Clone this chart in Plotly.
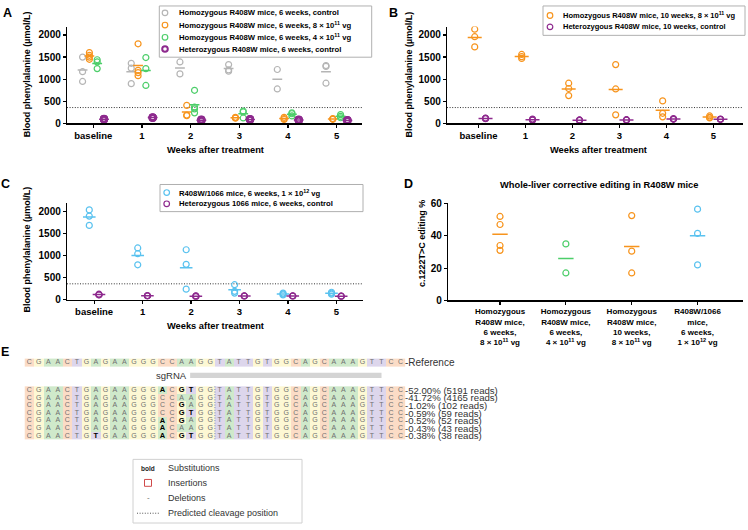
import plotly.graph_objects as go

W, H = 748, 530
FONT = "Liberation Sans, Arial, Helvetica, sans-serif"

# ---------------- data ----------------
week_labels = ["baseline", "1", "2", "3", "4", "5"]

# Panel A (6 weeks old)
a_hom_ctrl = [[1500, 1170, 950], [1360, 1250, 900], [1390, 1120], [1330, 1210, 1180], [1220, 780], [1310, 1290, 910]]
a_hom_8e11 = [[1600, 1540, 1500, 1450], [1800, 1200, 1150, 1080], [410, 190, 175], [140, 130, 120], [140, 110, 90], [110, 100, 95]]
a_hom_4e11 = [[1440, 1390, 1240], [1490, 1240, 860], [750, 370, 330, 240], [280, 260, 125], [240, 220, 170], [200, 160, 130]]
a_het_ctrl = [[105, 100, 95, 90], [140, 135, 130, 125], [85, 80, 70, 65], [100, 95, 90, 85], [85, 80, 75, 70], [75, 70, 65, 60]]

# Panel B (10 weeks old)
b_hom_8e11 = [[2130, 1960, 1730], [1560, 1510, 1470], [910, 790, 630], [1330, 780, 195], [510, 230, 150], [170, 140, 125]]
b_het_ctrl = [[120, 115, 110], [100, 85, 75], [80, 75, 70], [85, 80, 75], [110, 100, 95], [100, 95, 90]]

# Panel C
c_cmpd_1e12 = [[2030, 1890, 1680], [1170, 1040, 790], [1130, 800, 240], [340, 190, 150], [150, 130, 110], [170, 150, 125]]
c_het_1066 = [[125, 115, 110], [95, 90, 85], [90, 80, 70], [90, 85, 80], [90, 85, 80], [85, 80, 75]]

phe_threshold = 360
phe_ticks = [0, 500, 1000, 1500, 2000]

# Panel D
d_labels = [
    "Homozygous<br>R408W mice,<br>6 weeks,<br>8 × 10<sup>11</sup> vg",
    "Homozygous<br>R408W mice,<br>6 weeks,<br>4 × 10<sup>11</sup> vg",
    "Homozygous<br>R408W mice,<br>10 weeks,<br>8 × 10<sup>11</sup> vg",
    "R408W/1066<br>mice,<br>6 weeks,<br>1 × 10<sup>12</sup> vg",
]
d_values = [[52, 47, 34, 31], [35, 17], [52.5, 30.5, 17], [56.5, 41.5, 22]]
d_ticks = [0, 20, 40, 60]

# Panel E
ref_seq = "CGAACTGAGAAGGGCCAAGGTATTGTGGCAGCAAAGTTCC"
read_seqs = [
    "CGAACTGAGAAGGGACGTGGTATTGTGGCAGCAAAGTTCC",
    "CGAACTGAGAAGGGCCAAGGTATTGTGGCAGCAAAGTTCC",
    "CGAACTGAGAAGGGCCGAGGTATTGTGGCAGCAAAGTTCC",
    "CGAACTGAGAAGGGCCGTGGTATTGTGGCAGCAAAGTTCC",
    "CGAACTGAGAAGGGACGAGGTATTGTGGCAGCAAAGTTCC",
    "CGAACTGAGAAGGGACAAGGTATTGTGGCAGCAAAGTTCC",
    "CGAACTGTGAAGGGACGTGGTATTGTGGCAGCAAAGTTCC",
]
read_pcts = ["52.00%", "41.72%", "1.02%", "0.59%", "0.52%", "0.43%", "0.38%"]
read_counts = [5191, 4165, 102, 59, 52, 43, 38]

# ---------------- style ----------------
GREY = "#b5b5b5"
ORANGE = "#f7941d"
GREEN = "#4dce6a"
PURPLE = "#8e2a8e"
CYAN = "#5ac2ef"
NUC_COL = {"A": "#cfe9cb", "C": "#fbdcc6", "G": "#fdf8d4", "T": "#ddd6ec"}
NUC_CODE = {"A": 0, "C": 1, "G": 2, "T": 3}
DOT = "1px,1.6px"


def px(x):
    return x / W


def py(y):
    return 1 - y / H


fig = go.Figure()


def add_group(xa, ya, groups, offset, color, mean_w, lw=1.2, size=6):
    xs, ys, mx, my = [], [], [], []
    for i, vals in enumerate(groups):
        for v in vals:
            xs.append(i + offset)
            ys.append(v)
        mx.append(i + offset)
        my.append(sum(vals) / len(vals))
    fig.add_trace(go.Scatter(x=mx, y=my, mode="markers", xaxis=xa, yaxis=ya,
                             marker=dict(symbol="line-ew", size=mean_w, color=color,
                                         line=dict(width=1.5, color=color)),
                             showlegend=False, hoverinfo="skip"))
    fig.add_trace(go.Scatter(x=xs, y=ys, mode="markers", xaxis=xa, yaxis=ya,
                             marker=dict(symbol="circle-open", size=size, color=color,
                                         line=dict(width=lw, color=color)),
                             showlegend=False, hoverinfo="skip"))


# Panel A
add_group("x", "y", a_hom_ctrl, -0.22, GREY, 7)
add_group("x", "y", a_hom_8e11, -0.08, ORANGE, 7)
add_group("x", "y", a_hom_4e11, 0.08, GREEN, 7)
add_group("x", "y", a_het_ctrl, 0.22, PURPLE, 7, lw=2.2)
# Panel B
add_group("x2", "y2", b_hom_8e11, -0.08, ORANGE, 10)
add_group("x2", "y2", b_het_ctrl, 0.15, PURPLE, 10)
# Panel C
add_group("x3", "y3", c_cmpd_1e12, -0.1, CYAN, 9)
add_group("x3", "y3", c_het_1066, 0.1, PURPLE, 9)
# Panel D
d_colors = [ORANGE, GREEN, ORANGE, CYAN]
for i, vals in enumerate(d_values):
    xs = [i] * len(vals)
    fig.add_trace(go.Scatter(x=[i], y=[sum(vals) / len(vals)], mode="markers", xaxis="x4", yaxis="y4",
                             marker=dict(symbol="line-ew", size=11, color=d_colors[i],
                                         line=dict(width=1.5, color=d_colors[i])),
                             showlegend=False, hoverinfo="skip"))
    fig.add_trace(go.Scatter(x=xs, y=vals, mode="markers", xaxis="x4", yaxis="y4",
                             marker=dict(symbol="circle-open", size=6, color=d_colors[i],
                                         line=dict(width=1.2, color=d_colors[i])),
                             showlegend=False, hoverinfo="skip"))

# Panel E: alignment heatmaps
colorscale = [[0, NUC_COL["A"]], [0.25, NUC_COL["A"]], [0.25, NUC_COL["C"]], [0.5, NUC_COL["C"]],
              [0.5, NUC_COL["G"]], [0.75, NUC_COL["G"]], [0.75, NUC_COL["T"]], [1, NUC_COL["T"]]]
cols = list(range(len(ref_seq)))
READ_Y0 = 3.64
read_y = [READ_Y0 + i for i in range(len(read_seqs))]
fig.add_trace(go.Heatmap(z=[[NUC_CODE[c] for c in ref_seq]], x=cols, y=[0], xaxis="x5", yaxis="y5",
                         colorscale=colorscale, zmin=-0.5, zmax=3.5, showscale=False, hoverinfo="skip"))
fig.add_trace(go.Heatmap(z=[[NUC_CODE[c] for c in s] for s in read_seqs], x=cols, y=read_y,
                         xaxis="x5", yaxis="y5", colorscale=colorscale, zmin=-0.5, zmax=3.5,
                         showscale=False, hoverinfo="skip"))
nx, ny, nt, bx, by, bt = [], [], [], [], [], []
for j, c in enumerate(ref_seq):
    nx.append(j); ny.append(0); nt.append(c)
for i, s in enumerate(read_seqs):
    for j, c in enumerate(s):
        if c != ref_seq[j]:
            bx.append(j); by.append(read_y[i]); bt.append(c)
        else:
            nx.append(j); ny.append(read_y[i]); nt.append(c)
fig.add_trace(go.Scatter(x=nx, y=ny, text=nt, mode="text", xaxis="x5", yaxis="y5",
                         textfont=dict(family=FONT, size=7, color="#707070"),
                         showlegend=False, hoverinfo="skip"))
fig.add_trace(go.Scatter(x=bx, y=by, text=bt, mode="text", xaxis="x5", yaxis="y5",
                         textfont=dict(family=FONT, size=7.5, color="#000000", weight="bold"),
                         showlegend=False, hoverinfo="skip"))

# ---------------- axes ----------------
axis_common = dict(showline=True, linecolor="#000", linewidth=1.2, ticks="outside", ticklen=3,
                   tickwidth=1.2, tickcolor="#000", showgrid=False, zeroline=False)
xtick_font = dict(family=FONT, size=9.5, color="#000", weight="bold")
ytick_font = dict(family=FONT, size=10, color="#000", weight="bold")

E_X0, E_X1 = 24.5, 405.3
E_Y0, E_Y1 = 352, 448
layout_axes = dict(
    xaxis=dict(domain=[px(67), px(362)], range=[-0.54, 5.52], anchor="y",
               tickvals=list(range(6)), ticktext=week_labels, tickfont=xtick_font, **axis_common),
    yaxis=dict(domain=[py(121), py(22)], range=[0, 2190], anchor="x",
               tickvals=phe_ticks, tickfont=ytick_font, **axis_common),
    xaxis2=dict(domain=[px(447), px(743)], range=[-0.67, 5.63], anchor="y2",
                tickvals=list(range(6)), ticktext=week_labels, tickfont=xtick_font, **axis_common),
    yaxis2=dict(domain=[py(121), py(22)], range=[0, 2190], anchor="x2",
                tickvals=phe_ticks, tickfont=ytick_font, **axis_common),
    xaxis3=dict(domain=[px(67), px(363)], range=[-0.56, 5.55], anchor="y3",
                tickvals=list(range(6)), ticktext=week_labels, tickfont=xtick_font, **axis_common),
    yaxis3=dict(domain=[py(301), py(202)], range=[0, 2190], anchor="x3",
                tickvals=phe_ticks, tickfont=ytick_font, **axis_common),
    xaxis4=dict(domain=[px(448), px(743)], range=[-0.79, 3.69], anchor="y4",
                tickvals=list(range(4)), ticktext=d_labels,
                tickfont=dict(family=FONT, size=8, color="#000", weight="bold"), **axis_common),
    yaxis4=dict(domain=[py(301.7), py(202.7)], range=[0, 60], anchor="x4",
                tickvals=d_ticks, tickfont=ytick_font, **axis_common),
    xaxis5=dict(domain=[px(E_X0), px(E_X1)], range=[-0.5, 39.5], anchor="y5", visible=False),
    yaxis5=dict(domain=[py(E_Y1), py(E_Y0)], range=[10.668, -1.671], anchor="x5", visible=False),
)

# ---------------- annotations & shapes ----------------
ann = []
shapes = []


def text(x, y, t, size, bold=False, xanchor="center", color="#000", angle=0, xref="paper", yref="paper"):
    f = dict(family=FONT, size=size, color=color)
    if bold:
        f["weight"] = "bold"
    ann.append(dict(x=x if xref != "paper" else px(x), y=y if yref != "paper" else py(y),
                    xref=xref, yref=yref, text=t, showarrow=False, xanchor=xanchor,
                    yanchor="middle", font=f, textangle=angle, borderpad=0))


# panel letters
text(7.5, 8, "A", 12.5, True)
text(393.5, 8, "B", 12.5, True)
text(5.5, 182.5, "C", 12.5, True)
text(408.5, 182.5, "D", 12.5, True)
text(5, 354, "E", 12.5, True)

# axis titles
yt = "Blood phenylalanine (µmol/L)"
text(26.7, 71, yt, 9, True, angle=-90)
text(409, 71, yt, 9, True, angle=-90)
text(26.7, 250, yt, 9, True, angle=-90)
text(422, 244, "c.1222T>C editing %", 9, True, angle=-90)
xt = "Weeks after treatment"
text(215, 148, xt, 9.3, True)
text(598, 148, xt, 9.3, True)
text(215, 328, xt, 9.3, True)
text(598.5, 184, "Whole-liver corrective editing in R408W mice", 9.3, True)

# threshold lines
for xr, yr in [("x", "y"), ("x2", "y2"), ("x3", "y3")]:
    shapes.append(dict(type="line", xref=xr + " domain", yref=yr, x0=0, x1=1,
                       y0=phe_threshold, y1=phe_threshold, line=dict(color="#333", width=1, dash=DOT),
                       layer="below"))


def legend_box(x0, y0, x1, y1, items, sym_x, txt_x, size=7.7):
    shapes.append(dict(type="rect", xref="paper", yref="paper", x0=px(x0), x1=px(x1), y0=py(y1), y1=py(y0),
                       line=dict(color="#b0b0b0", width=1), fillcolor="white", layer="above"))
    for (yy, color, lw, label) in items:
        shapes.append(dict(type="circle", xref="paper", yref="paper", xsizemode="pixel", ysizemode="pixel",
                           xanchor=px(sym_x), yanchor=py(yy), x0=-2.8, x1=2.8, y0=-2.8, y1=2.8,
                           line=dict(color=color, width=lw), layer="above"))
        text(txt_x, yy, label, size, True, xanchor="left")


legend_box(159.3, 1, 371.7, 53.3, [
    (8, GREY, 1.2, "Homozygous R408W mice, 6 weeks, control"),
    (20.5, ORANGE, 1.2, "Homozygous R408W mice, 6 weeks, 8 × 10<sup>11</sup> vg"),
    (33, GREEN, 1.2, "Homozygous R408W mice, 6 weeks, 4 × 10<sup>11</sup> vg"),
    (45, PURPLE, 2.0, "Heterozygous R408W mice, 6 weeks, control"),
], 165, 177.5)
legend_box(543, 1, 745, 31, [
    (10.7, ORANGE, 1.2, "Homozygous R408W mice, 10 weeks, 8 × 10<sup>11</sup> vg"),
    (22.3, PURPLE, 1.2, "Heterozygous R408W mice, 10 weeks, control"),
], 550, 561.5, size=7.5)
legend_box(160, 183.3, 363, 211, [
    (191.5, CYAN, 1.2, "R408W/1066 mice, 6 weeks, 1 × 10<sup>12</sup> vg"),
    (203, PURPLE, 1.2, "Heterozygous 1066 mice, 6 weeks, control"),
], 166.7, 178.3)

# panel E extras (positions of the alignment grid in page pixels)
row_h = (E_Y1 - E_Y0) / (10.668 + 1.671)


def e_py(r):
    return E_Y0 + (r + 1.671) * row_h


shapes.append(dict(type="rect", xref="x5", yref="y5", x0=16.9, x1=37.0, y0=1.7 - 0.33, y1=1.7 + 0.33,
                   fillcolor="#d4d4d4", line=dict(width=0)))
text(16.7, 1.72, "sgRNA", 9.5, xanchor="right", color="#333", xref="x5", yref="y5")
shapes.append(dict(type="line", xref="x5", yref="y5", x0=19.5, x1=19.5, y0=READ_Y0 - 0.5,
                   y1=read_y[-1] + 0.5, line=dict(color="#6f86b8", width=1, dash=DOT)))
text(E_X1 - 1, e_py(0), "-Reference", 10, xanchor="left", color="#333")
for i in range(len(read_seqs)):
    text(E_X1 - 1, e_py(read_y[i]), "-%s (%d reads)" % (read_pcts[i], read_counts[i]), 9.6,
         xanchor="left", color="#333")

# E legend
shapes.append(dict(type="rect", xref="paper", yref="paper", x0=px(133), x1=px(302), y0=py(529), y1=py(464),
                   line=dict(color="#d0d0d0", width=1), fillcolor="white"))
text(148, 473, "bold", 6.5, True, color="#222")
text(167, 473, "Substitutions", 9, xanchor="left", color="#333")
shapes.append(dict(type="rect", xref="paper", yref="paper", x0=px(144.5), x1=px(151.5), y0=py(491.5),
                   y1=py(484.5), line=dict(color="#d04a4a", width=1)))
text(167, 488, "Insertions", 9, xanchor="left", color="#333")
text(148, 503, "-", 8, color="#666")
text(167, 503, "Deletions", 9, xanchor="left", color="#333")
shapes.append(dict(type="line", xref="paper", yref="paper", x0=px(137), x1=px(160), y0=py(519), y1=py(519),
                   line=dict(color="#555", width=1, dash=DOT)))
text(167, 519, "Predicted cleavage position", 9, xanchor="left", color="#333")

fig.update_layout(
    width=W, height=H, margin=dict(l=0, r=0, t=0, b=0),
    paper_bgcolor="white", plot_bgcolor="white", showlegend=False,
    font=dict(family=FONT, color="#000"),
    annotations=ann, shapes=shapes, **layout_axes,
)

fig.write_html("out.html", config={"displayModeBar": False, "staticPlot": True},
               post_script="document.body.style.margin='0px';document.body.style.overflow='hidden';")
